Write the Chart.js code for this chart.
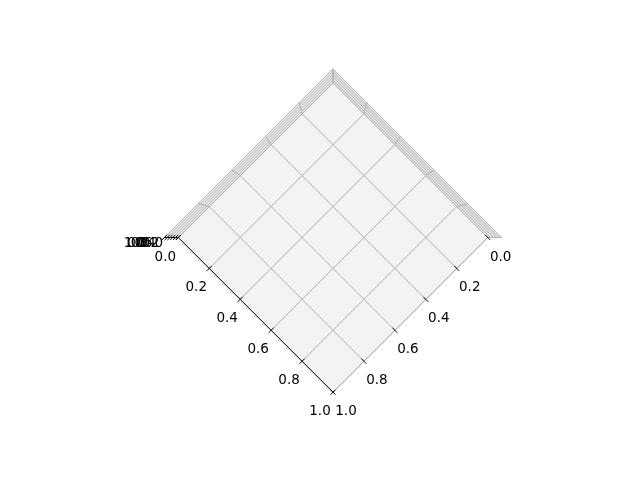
<!DOCTYPE html>
<html>
<head>
<meta charset="utf-8">
<script src="https://cdn.jsdelivr.net/npm/chart.js@4.4.1/dist/chart.umd.min.js"></script>
<style>
  html, body { margin: 0; padding: 0; background: #fff; }
  #wrap { width: 640px; height: 480px; position: relative; }
</style>
</head>
<body>
<div id="wrap"><canvas id="axes3d"></canvas></div>
<script>
// empty 3D axes, seen from above
const xTicks = [0, 0.2, 0.4, 0.6, 0.8, 1.0];
const yTicks = [0, 0.2, 0.4, 0.6, 0.8, 1.0];
const zTicks = [0, 0.2, 0.4, 0.6, 0.8, 1.0];
const xTickLabels = ['0.0', '0.2', '0.4', '0.6', '0.8', '1.0'];
const yTickLabels = ['0.0', '0.2', '0.4', '0.6', '0.8', '1.0'];
const zTickLabels = ['0.0', '0.2', '0.4', '0.6', '0.8', '1.0'];

// view settings
const PERSP = 0.09;      // how much nearer (z=1) things grow
const CX = 333, CY = 237.5, UNIT = 154.7;  // where the floor diamond sits
const GRID = '#b0b0b0';
const TICK = 0.016;

function proj(p) {
  const s = 1 + PERSP * p[2];
  return { x: s * (p[0] - p[1]), y: s * (p[0] + p[1] - 1) };
}

function path(points, style) {
  return Object.assign({
    data: points.map(proj),
    showLine: true,
    pointRadius: 0,
    pointHoverRadius: 0,
    borderWidth: 1,
    fill: false
  }, style);
}

const datasets = [];

// panes
datasets.push(path([[0,0,0],[1,0,0],[1,1,0],[0,1,0],[0,0,0]],
  { fill: 'shape', backgroundColor: '#f3f3f3', borderWidth: 0, borderColor: 'rgba(0,0,0,0)', order: 5 }));
datasets.push(path([[0,0,0],[0,1,0],[0,1,1],[0,0,1],[0,0,0]],
  { fill: 'shape', backgroundColor: '#eeeeee', borderWidth: 0, borderColor: 'rgba(0,0,0,0)', order: 5 }));
datasets.push(path([[0,0,0],[1,0,0],[1,0,1],[0,0,1],[0,0,0]],
  { fill: 'shape', backgroundColor: '#e9e9e9', borderWidth: 0, borderColor: 'rgba(0,0,0,0)', order: 5 }));

// grid lines across floor and back walls
xTicks.forEach(t => datasets.push(path([[t,1,0],[t,0,0],[t,0,1]], { borderColor: GRID, order: 4 })));
yTicks.forEach(t => datasets.push(path([[1,t,0],[0,t,0],[0,t,1]], { borderColor: GRID, order: 4 })));
zTicks.forEach(t => datasets.push(path([[1,0,t],[0,0,t],[0,1,t]], { borderColor: GRID, order: 4 })));

// axis lines
datasets.push(path([[0,1,0],[1,1,0]], { borderColor: '#000', order: 3 }));
datasets.push(path([[1,0,0],[1,1,0]], { borderColor: '#a8a8a8', order: 3 }));
datasets.push(path([[0,1,0],[0,1,1]], { borderColor: '#000', order: 3 }));

// tick marks
xTicks.forEach(t => datasets.push(path([[t,1-TICK,0],[t,1+TICK,0]], { borderColor: '#000', order: 2 })));
yTicks.forEach(t => datasets.push(path([[1-TICK,t,0],[1+TICK,t,0]], { borderColor: '#000', order: 2 })));
zTicks.forEach(t => datasets.push(path([[0,1-TICK,t],[0,1+TICK,t]], { borderColor: '#000', order: 2 })));

// tick labels, placed through the chart's own scales
const tickLabelPlugin = {
  id: 'tickLabels',
  afterDatasetsDraw(chart) {
    const ctx = chart.ctx;
    const sx = chart.scales.x, sy = chart.scales.y;
    const px = p => { const q = proj(p); return [sx.getPixelForValue(q.x), sy.getPixelForValue(q.y)]; };
    ctx.save();
    ctx.fillStyle = '#000';
    ctx.font = '13.5px "DejaVu Sans"';
    ctx.textAlign = 'center';
    ctx.textBaseline = 'middle';
    xTicks.forEach((t, i) => {
      const [x, y] = px([t, 1, 0]);
      ctx.fillText(xTickLabels[i], x - 13, y + 19.5);
    });
    yTicks.forEach((t, i) => {
      const [x, y] = px([1, t, 0]);
      ctx.fillText(yTickLabels[i], x + 13, y + 19.5);
    });
    zTicks.forEach((t, i) => {
      const [x, y] = px([0, 1, t]);
      ctx.fillText(zTickLabels[i], x - 26 - 4 * t, y + 6);
    });
    ctx.restore();
  }
};

new Chart(document.getElementById('axes3d'), {
  type: 'scatter',
  data: { datasets: datasets },
  options: {
    responsive: true,
    maintainAspectRatio: false,
    animation: false,
    events: [],
    layout: { padding: 0 },
    plugins: {
      legend: { display: false },
      tooltip: { enabled: false }
    },
    scales: {
      x: { type: 'linear', display: false, min: -CX / UNIT, max: (640 - CX) / UNIT },
      y: { type: 'linear', display: false, reverse: true, min: -CY / UNIT, max: (480 - CY) / UNIT }
    }
  },
  plugins: [tickLabelPlugin]
});
</script>
</body>
</html>
